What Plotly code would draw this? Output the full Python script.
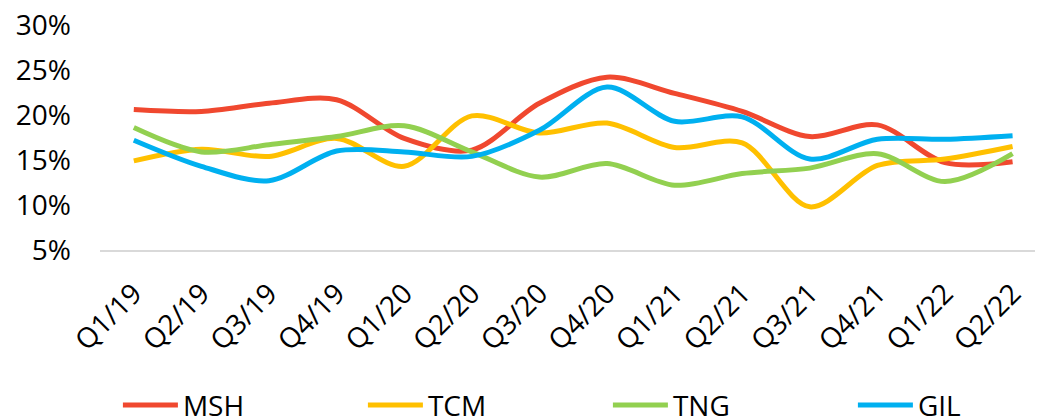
import plotly.graph_objects as go

quarters = ["Q1/19", "Q2/19", "Q3/19", "Q4/19", "Q1/20", "Q2/20", "Q3/20",
            "Q4/20", "Q1/21", "Q2/21", "Q3/21", "Q4/21", "Q1/22", "Q2/22"]

msh = [20.6, 20.4, 21.3, 21.7, 17.4, 16.1, 21.3, 24.2, 22.4, 20.4, 17.6, 18.9, 14.7, 14.8]
tcm = [14.9, 16.2, 15.4, 17.4, 14.3, 19.9, 18.0, 19.1, 16.4, 16.9, 9.8, 14.4, 15.1, 16.5]
tng = [18.6, 15.9, 16.7, 17.6, 18.8, 15.9, 13.1, 14.6, 12.2, 13.5, 14.1, 15.7, 12.6, 15.7]
gil = [17.2, 14.3, 12.7, 16.0, 15.9, 15.4, 18.3, 23.1, 19.3, 19.8, 15.1, 17.3, 17.3, 17.7]

series = [("MSH", msh, "#F0482F"), ("TCM", tcm, "#FFC000"),
          ("TNG", tng, "#92D050"), ("GIL", gil, "#00B0F0")]

font_family = "Open Sans"

fig = go.Figure()
for name, vals, color in series:
    fig.add_trace(go.Scatter(
        x=quarters, y=[v / 100 for v in vals], name=name, mode="lines",
        line=dict(color=color, width=5, shape="spline", smoothing=0.9),
    ))

# page body has an 8px default margin, so the figure is 8px smaller each way
fig.update_layout(
    width=1035, height=410,
    margin=dict(l=92, r=0, t=17, b=168, autoexpand=False),
    paper_bgcolor="white", plot_bgcolor="white",
    font=dict(family=font_family, size=28, color="#000000"),
    showlegend=True,
    legend=dict(orientation="h", x=-0.0001, xanchor="left", y=-0.69, yanchor="middle",
                entrywidth=157, entrywidthmode="pixels", indentation=18,
                font=dict(size=28, family=font_family), itemwidth=55,
                traceorder="normal"),
    xaxis=dict(type="category", range=[-0.5, 13.45], showgrid=False, automargin=False,
               showline=True, linecolor="#D9D9D9", linewidth=2,
               ticks="", tickangle=-45, tickfont=dict(size=28), ticklabelstandoff=14),
    yaxis=dict(range=[0.05, 0.30], tickvals=[0.05, 0.10, 0.15, 0.20, 0.25, 0.30],
               tickformat=".0%", showgrid=False, ticklabeloverflow="allow",
               zeroline=False, showline=False, ticks="", automargin=False,
               tickfont=dict(size=28), ticklabelstandoff=28),
)

fig.write_html("out.html")
